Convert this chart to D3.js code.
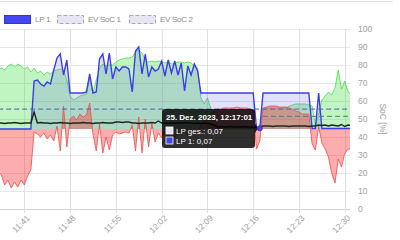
<!DOCTYPE html>
<html>
<head>
<meta charset="utf-8">
<script src="https://cdn.jsdelivr.net/npm/d3@7"></script>
<style>
  body { margin: 0; background: #fff; }
  svg { display: block; font-family: "Liberation Sans", Arial, sans-serif; }
</style>
</head>
<body>
<svg id="chart"></svg>
<script>
// samples every 30 s, starting 11:37:00
const start = new Date(2023, 11, 25, 11, 37, 0);
const stepSec = 30;

// kW
const pv = [5.9,6.1,5.9,6.3,6.5,6.2,6.5,6.3,6.0,6.2,5.7,6.1,5.6,5.8,5.4,5.7,5.5,5.8,5.9,6.0,5.9,4.9,
  3.3,2.9,3.1,3.3,3.4,3.5,5.1,3.6,4.9,
  6.1,6.5,6.3,6.4,6.4,6.7,6.9,7.0,7.1,7.1,7.2,7.7,7.9,7.6,6.9,6.7,6.8,6.7,6.8,6.7,6.6,6.7,6.5,6.6,6.7,6.7,6.6,6.7,6.6,6.3,6.1,
  3.1,2.5,3.1,2.1,1.7,0.4,
  0,0,0,0,0,0,0,0,0,0,0,0,0,
  2.0,2.1,2.1,2.1,2.1,2.1,2.1,2.1,2.3,2.4,2.5,2.5,2.5,2.5,2.4,2.3,
  0.3,1.5,2.9,3.3,3.7,3.4,4.1,5.9,4.0,4.8,3.7,3.5];

const lp1 = [0,0,0,0,0,0,0,0,0,0,0,
  4.8,4.9,4.5,4.3,4.7,4.5,5.9,7.1,7.5,5.4,6.9,
  3.6,3.6,3.6,3.6,3.6,3.7,
  5.5,3.6,3.7,7.0,7.5,5.5,7.6,5.0,6.2,5.8,6.2,6.2,6.0,3.7,7.8,8.2,5.5,7.5,5.2,6.2,
  5.8,6.0,6.8,5.3,6.9,5.6,6.8,5.4,6.6,3.8,6.3,5.4,6.5,5.8,
  3.6,3.6,3.6,3.6,3.6,3.6,3.6,3.6,3.6,3.6,3.6,3.6,3.6,3.6,3.6,3.6,3.6,
  0.05,0.07,
  3.6,3.6,3.6,3.6,3.6,3.6,3.6,3.6,3.6,3.6,3.6,3.6,3.6,3.6,3.6,
  0.05,0.05,3.6,0.05,0.05,0.05,0.05,0.05,0.05,0.05,0.05,0.05,0.05];

const grid = [-4.3,-4.6,-5.6,-5.1,-5.9,-5.3,-5.8,-5.1,-5.6,-4.7,-4.1,
  -0.3,-0.5,-0.8,-0.4,-1.0,-0.6,-1.2,0.3,-2.2,2.3,-1.8,
  1.0,1.3,0.9,1.5,1.2,1.4,2.6,-0.5,-2.2,0.5,-2.4,-0.8,-2.1,-0.6,
  -0.3,-0.5,-0.4,-0.3,-0.4,0.4,-2.2,1.2,-2.4,1.0,-1.8,0.6,-1.3,-0.4,-0.9,-0.3,-0.8,-0.4,-0.9,-0.3,-0.6,-0.2,-0.7,-0.3,-0.5,-0.4,
  0.4,1.0,0.8,1.5,1.8,2.0,2.0,2.1,2.1,2.1,2.1,2.2,2.1,2.1,2.1,2.0,1.8,
  -2.0,-1.2,
  2.1,2.2,2.3,2.3,2.3,2.2,2.2,2.2,2.1,2.0,1.8,1.7,1.5,1.5,1.5,
  -1.5,-2.1,0.3,-1.4,-2.0,-2.8,-4.4,-5.4,-3.0,-3.8,-2.4,-2.0,-2.0];

const house = [0.6,0.6,0.55,0.6,0.6,0.65,0.6,0.55,0.6,0.6,0.6,
  1.7,
  0.6,0.65,0.6,0.6,0.55,0.6,0.6,0.65,0.6,0.6,0.55,0.6,0.6,0.6,0.65,0.6,0.6,0.55,0.6,
  0.6,0.65,0.6,0.6,0.6,0.7,0.7,0.65,0.7,0.7,0.6,0.6,0.55,0.6,0.6,0.6,0.65,0.6,0.8,0.6,0.6,0.55,0.6,0.6,0.6,0.6,0.65,0.6,0.6,0.55,0.6,
  0.55,0.6,0.55,0.5,0.4,
  0.2,0.25,0.2,0.2,0.25,0.2,0.2,0.2,0.25,0.2,0.2,0.2,0.15,0.2,0.3,0.3,0.3,0.25,0.3,0.3,0.3,0.3,0.25,0.3,0.3,0.3,0.3,0.3,0.25,0.3,
  0.3,0.4,0.35,0.4,0.3,0.4,0.35,0.3,0.45,0.25,0.4,0.35];

// SoC %
const soc1Times = ["11:37:00", "12:31:00"];
const soc1Values = [55.5, 55.5];
const soc2Times = ["12:17:30", "12:31:00"];
const soc2Values = [51.5, 51.5];

const tickLabels = ["11:41", "11:48", "11:55", "12:02", "12:09", "12:16", "12:23", "12:30"];
const socTicks = [0, 10, 20, 30, 40, 50, 60, 70, 80, 90, 100];

const legendItems = ["LP 1", "EV SoC 1", "EV SoC 2"];
const tooltipIndex = 80;
const tooltipTitle = "25. Dez. 2023, 12:17:01";

const width = 400, height = 240;
const plotRight = 350, plotTop = 29, plotBottom = 209;

const parseHM = s => {
  const p = s.split(":").map(Number);
  return new Date(2023, 11, 25, p[0], p[1], p[2] || 0);
};
const times = pv.map((_, i) => d3.timeSecond.offset(start, i * stepSec));

const svg = d3.select("#chart").attr("width", width).attr("height", height);

const x = d3.scaleTime()
  .domain([parseHM("11:41"), parseHM("12:30")])
  .range([24.3, 344.8]);
const ySoc = d3.scaleLinear().domain([0, 100]).range([plotBottom, plotTop]);
const yPow = d3.scaleLinear().domain([-8, 10]).range([plotBottom, plotTop]);

// top border
svg.append("line")
  .attr("x1", 0).attr("x2", 393).attr("y1", 1.5).attr("y2", 1.5)
  .attr("stroke", "#e3e3e3");

// grid
svg.append("g")
  .selectAll("line")
  .data(socTicks)
  .join("line")
  .attr("x1", 0).attr("x2", plotRight)
  .attr("y1", d => Math.round(ySoc(d)) + 0.5)
  .attr("y2", d => Math.round(ySoc(d)) + 0.5)
  .attr("stroke", d => d === 0 ? "#d4d4d4" : "#e6e6e6");

svg.append("g")
  .selectAll("line")
  .data(tickLabels.map(parseHM))
  .join("line")
  .attr("x1", d => Math.round(x(d)) + 0.5)
  .attr("x2", d => Math.round(x(d)) + 0.5)
  .attr("y1", plotTop).attr("y2", plotBottom + 4)
  .attr("stroke", "#e0e0e0");

svg.append("defs").append("clipPath").attr("id", "clip")
  .append("rect").attr("x", 0).attr("y", 0).attr("width", plotRight).attr("height", height);

const plot = svg.append("g").attr("clip-path", "url(#clip)");

const area = vals => d3.area()
  .x((d, i) => x(times[i]))
  .y0(yPow(0))
  .y1(d => yPow(d))(vals);
const line = vals => d3.line()
  .x((d, i) => x(times[i]))
  .y(d => yPow(d))(vals);

// PV
plot.append("path").attr("d", area(pv)).attr("fill", "rgba(60,220,60,0.32)");
plot.append("path").attr("d", line(pv)).attr("fill", "none")
  .attr("stroke", "rgba(70,215,70,0.75)").attr("stroke-width", 1);

// LP 1
plot.append("path").attr("d", area(lp1)).attr("fill", "rgba(90,90,240,0.18)");

// grid
plot.append("path").attr("d", area(grid)).attr("fill", "rgba(250,60,60,0.42)");
plot.append("path").attr("d", line(grid)).attr("fill", "none")
  .attr("stroke", "rgba(245,80,80,0.85)").attr("stroke-width", 1);

plot.append("path").attr("d", line(lp1)).attr("fill", "none")
  .attr("stroke", "#3c3ce8").attr("stroke-width", 1.4);

// house
plot.append("path").attr("d", line(house)).attr("fill", "none")
  .attr("stroke", "#1c2a1c").attr("stroke-width", 1.4);

// SoC dashed
const socLine = d3.line().x(d => x(d[0])).y(d => ySoc(d[1]));
plot.append("path")
  .attr("d", socLine(soc1Times.map((t, i) => [parseHM(t), soc1Values[i]])))
  .attr("fill", "none").attr("stroke", "rgba(70,110,170,0.85)")
  .attr("stroke-width", 1.2).attr("stroke-dasharray", "5,3");
plot.append("path")
  .attr("d", socLine(soc2Times.map((t, i) => [parseHM(t), soc2Values[i]])))
  .attr("fill", "none").attr("stroke", "rgba(90,120,140,0.85)")
  .attr("stroke-width", 1.2).attr("stroke-dasharray", "5,3");

// axes
const yAxis = svg.append("g")
  .attr("transform", `translate(${plotRight},0)`)
  .call(d3.axisRight(ySoc).tickValues(socTicks).tickSize(0).tickPadding(8));
yAxis.select(".domain").remove();
yAxis.selectAll("text").attr("fill", "#a0a0a0").attr("font-size", 8.5)
  .attr("font-family", "Liberation Sans, Arial, sans-serif");

svg.append("text")
  .attr("transform", `translate(383,${(plotTop + plotBottom) / 2}) rotate(90)`)
  .attr("text-anchor", "middle")
  .attr("dy", "0.35em")
  .attr("font-size", 8.5)
  .attr("fill", "#a0a0a0")
  .text("SoC [%]");

const xAxis = svg.append("g")
  .attr("transform", `translate(0,${plotBottom})`)
  .call(d3.axisBottom(x).tickValues(tickLabels.map(parseHM))
    .tickFormat(d3.timeFormat("%H:%M")).tickSize(0).tickPadding(0));
xAxis.select(".domain").remove();
xAxis.selectAll("text")
  .attr("fill", "#a0a0a0").attr("font-size", 8.5)
  .attr("font-family", "Liberation Sans, Arial, sans-serif")
  .attr("text-anchor", "end")
  .attr("dy", null).attr("y", null)
  .attr("transform", "translate(4,8) rotate(-45)")
  .attr("dominant-baseline", "middle");

// legend
const legend = svg.append("g").attr("font-size", 8).attr("fill", "#8a8a8a")
  .attr("letter-spacing", -0.3);
const legendX = [4.5, 57.5, 129.5];
legend.selectAll("rect")
  .data(legendItems)
  .join("rect")
  .attr("x", (d, i) => legendX[i]).attr("y", 15.5)
  .attr("width", 26).attr("height", 8)
  .attr("fill", (d, i) => i === 0 ? "#4646ee" : "#e6e6f3")
  .attr("stroke", (d, i) => i === 0 ? "#3434dd" : "#a4aac4")
  .attr("stroke-dasharray", (d, i) => i === 0 ? null : "4,2");
legend.selectAll("text")
  .data(legendItems)
  .join("text")
  .attr("x", (d, i) => legendX[i] + 30.5).attr("y", 19.5)
  .attr("dy", "0.35em")
  .text(d => d);

// tooltip
const fmt = v => d3.format(".2f")(v).replace(".", ",");
const tipX = x(times[tooltipIndex]);
const tipY = yPow(lp1[tooltipIndex]);
const tip = svg.append("g");
tip.append("rect")
  .attr("x", 162).attr("y", 109).attr("width", 93).attr("height", 39)
  .attr("rx", 3).attr("fill", "rgba(0,0,0,0.82)");
tip.append("path")
  .attr("d", `M255,${tipY - 5}L${tipX - 2},${tipY}L255,${tipY + 5}Z`)
  .attr("fill", "rgba(0,0,0,0.82)");
tip.append("text")
  .attr("x", 166).attr("y", 119.5)
  .attr("font-size", 8).attr("font-weight", "bold").attr("fill", "#fff")
  .text(tooltipTitle);
const tipRows = [["LP ges.", lp1[tooltipIndex], "#e4e4f8"], ["LP 1", lp1[tooltipIndex], "#4646ee"]];
tipRows.forEach((r, i) => {
  tip.append("rect")
    .attr("x", 166).attr("y", 127 + i * 10).attr("width", 7).attr("height", 7)
    .attr("fill", r[2]).attr("stroke", "#fff").attr("stroke-width", 0.8);
  tip.append("text")
    .attr("x", 176).attr("y", 133.5 + i * 10)
    .attr("font-size", 8).attr("fill", "#fff")
    .text(`${r[0]}: ${fmt(r[1])}`);
});
svg.append("circle")
  .attr("cx", tipX).attr("cy", tipY).attr("r", 2.5)
  .attr("fill", "#5a3ee6").attr("stroke", "#4030c0");
</script>
</body>
</html>
